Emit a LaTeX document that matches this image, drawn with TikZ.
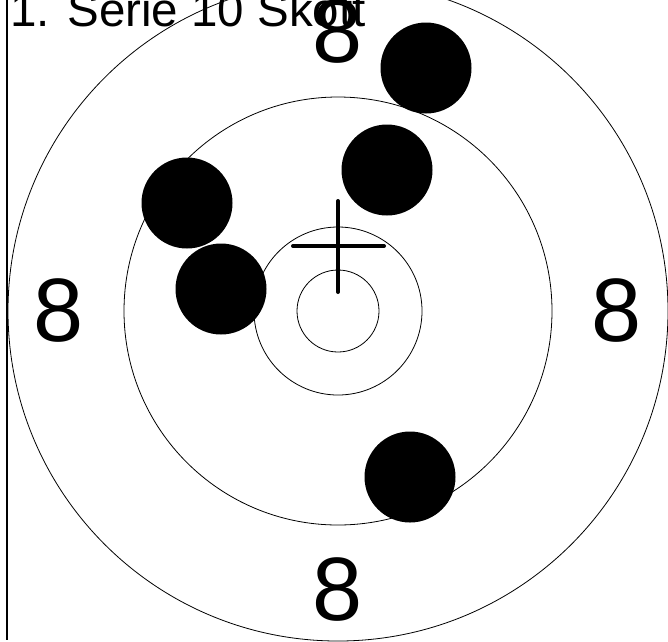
\documentclass[tikz,border=0pt]{standalone}
\usepackage{fontspec}
\setmainfont{Liberation Sans}

\begin{document}
\begin{tikzpicture}[x=1pt, y=-1pt,
    ring/.style={draw, line width=0.8pt},
    shot/.style={fill=black},
    score/.style={inner sep=0pt, font=\fontsize{90}{90}\selectfont},
    crossline/.style={line width=4pt, line cap=round}]
  \useasboundingbox (0,0) rectangle (668,641);

  % Rings
  \coordinate (centre) at (338,311);
  \foreach \r in {41,84,214,330}
    \draw[ring] (centre) circle[radius=\r];

  % Axis
  \coordinate (axistop) at (7,0);
  \coordinate (axisbottom) at (7,640);
  \draw[line width=1.3pt] (axistop) -- (axisbottom);

  % Title
  \node[inner sep=0pt, anchor=base west, font=\fontsize{47.5}{47.5}\selectfont] (title) at (10,26) {1. Serie 10 Skott};

  % Scores
  \node[score] (top) at (338,32) {8};
  \node[score] (left) at (59,311) {8};
  \node[score] (right) at (617,311) {8};
  \node[score] (bottom) at (338,590) {8};

  % Shots
  \foreach \x/\y in {426/68, 387/170, 187/203, 221/289, 410/477}
    \fill[shot] (\x,\y) circle[radius=45.5];

  % Cross
  \coordinate (crosstop) at (338,201);
  \coordinate (crossbottom) at (338,292);
  \coordinate (crossleft) at (293,246);
  \coordinate (crossright) at (384,246);
  \draw[crossline] (crosstop) -- (crossbottom);
  \draw[crossline] (crossleft) -- (crossright);
\end{tikzpicture}
\end{document}
